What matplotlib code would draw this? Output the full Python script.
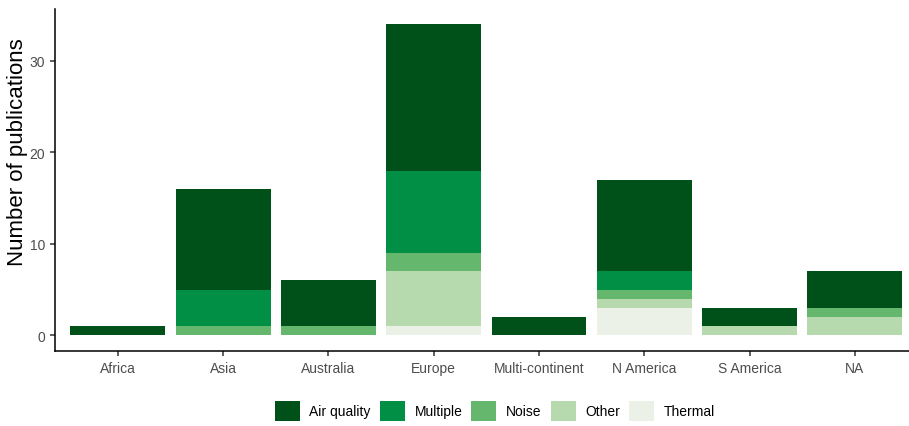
import matplotlib
matplotlib.use("Agg")
import matplotlib.pyplot as plt
from matplotlib.patches import Patch
import numpy as np

plt.rcParams["font.family"] = ["Liberation Sans", "DejaVu Sans"]

# Publication counts by continent and exposure type
continents = ["Africa", "Asia", "Australia", "Europe", "Multi-continent",
              "N America", "S America", "NA"]
thermal = [0, 0, 0, 1, 0, 3, 0, 0]
other = [0, 0, 0, 6, 0, 1, 1, 2]
noise = [0, 1, 1, 2, 0, 1, 0, 1]
multiple = [0, 4, 0, 9, 0, 2, 0, 0]
air_quality = [1, 11, 5, 16, 2, 10, 2, 4]

# Stacked bottom-to-top
layers = [
    ("Thermal", thermal, "#ebf1e6"),
    ("Other", other, "#b6d9ae"),
    ("Noise", noise, "#66b76e"),
    ("Multiple", multiple, "#008f45"),
    ("Air quality", air_quality, "#00501a"),
]

W, H = 909, 427
fig = plt.figure(figsize=(W / 100, H / 100), dpi=100)
left, right, top, bottom_px = 54.7, 918, 9.5, 352
ax = fig.add_axes([left / W, 1 - bottom_px / H, (right - left) / W, (bottom_px - top) / H])

x = np.arange(len(continents))
bottom = np.zeros(len(continents))
for name, vals, col in layers:
    vals = np.array(vals, dtype=float)
    ax.bar(x, vals, bottom=bottom, width=0.9, color=col, edgecolor="none", label=name)
    bottom += vals

total_max = bottom.max()
ax.set_ylim(-0.05 * total_max, total_max * 1.05)
ax.set_xlim(-0.6, len(continents) - 1 + 0.6)
ax.set_xticks(x)
ax.set_xticklabels(continents)
ax.set_yticks([0, 10, 20, 30])

for s in ["top", "right"]:
    ax.spines[s].set_visible(False)
for s in ["left", "bottom"]:
    ax.spines[s].set_linewidth(1.1)
    ax.spines[s].set_color("black")
ax.tick_params(axis="both", colors="#333333", labelcolor="#4d4d4d",
               labelsize=10, length=3.5, width=1.1)

# Axis title placed explicitly in figure pixels
fig.text(18 / W, 1 - 152 / H, "Number of publications", rotation=90,
         ha="center", va="center", fontsize=16, color="black")

handles = [Patch(facecolor=c, edgecolor="none", label=n) for n, _, c in layers[::-1]]
fig.legend(handles=handles, loc="center", bbox_to_anchor=(495 / W, 1 - 412 / H),
           ncol=5, frameon=False, fontsize=10, handlelength=1.8, handleheight=1.8,
           handletextpad=0.7, columnspacing=0.65)

fig.savefig("out.png", dpi=100)
